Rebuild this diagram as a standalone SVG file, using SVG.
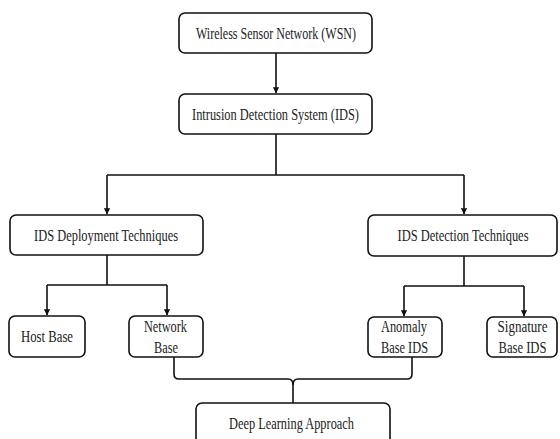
<svg xmlns="http://www.w3.org/2000/svg" width="560" height="439" viewBox="0 0 560 439">
<style>
.box{fill:#fff;stroke:#111;stroke-width:1.6}
.t{font-size:16px;fill:#222;text-anchor:middle}
.c{fill:none;stroke:#111;stroke-width:1.6}
.a{fill:none;stroke:#111;stroke-width:1.6;marker-end:url(#ah)}
</style>
<defs>
<marker id="ah" viewBox="0 0 6 6" refX="5.5" refY="3" markerWidth="4" markerHeight="4" markerUnits="strokeWidth" orient="auto">
<path d="M0,0 L6,3 L0,6 z" fill="#111"/>
</marker>
</defs>
<rect width="560" height="439" fill="#fff"/>
<g id="connectors">
<path class="a" d="M276,53 V93"/>
<path class="c" d="M276,134 V175 M107,175 H464"/>
<path class="a" d="M107,175 V214"/>
<path class="a" d="M464,175 V214"/>
<path class="c" d="M107,255 V285 M47,285 H167"/>
<path class="a" d="M47,285 V315"/>
<path class="a" d="M167,285 V315"/>
<path class="c" d="M464,256 V286 M404,286 H524"/>
<path class="a" d="M404,286 V316"/>
<path class="a" d="M524,286 V316"/>
<path class="c" d="M174,357 V374 Q174,379 179,379 H288 Q293,379 293,385 V403"/>
<path class="c" d="M412,357 V374 Q412,379 407,379 H298 Q293,379 293,385"/>
</g>
<g font-family="'Liberation Serif', 'DejaVu Serif', serif">
<g id="wsn">
<rect class="box" x="179" y="13" width="193" height="40" rx="6"/>
<text class="t" x="276" y="38.5" textLength="160" lengthAdjust="spacingAndGlyphs">Wireless Sensor Network (WSN)</text>
</g>
<g id="ids">
<rect class="box" x="179" y="94" width="193" height="40" rx="6"/>
<text class="t" x="275.5" y="120" textLength="167" lengthAdjust="spacingAndGlyphs">Intrusion Detection System (IDS)</text>
</g>
<g id="deployment">
<rect class="box" x="10" y="215" width="193" height="40" rx="6"/>
<text class="t" x="106" y="241" textLength="144" lengthAdjust="spacingAndGlyphs">IDS Deployment Techniques</text>
</g>
<g id="detection">
<rect class="box" x="368" y="215" width="189" height="41" rx="6"/>
<text class="t" x="463" y="241" textLength="131" lengthAdjust="spacingAndGlyphs">IDS Detection Techniques</text>
</g>
<g id="host">
<rect class="box" x="9" y="316" width="76" height="41" rx="6"/>
<text class="t" x="47" y="342" textLength="52" lengthAdjust="spacingAndGlyphs">Host Base</text>
</g>
<g id="network">
<rect class="box" x="129" y="316" width="74" height="41" rx="6"/>
<text class="t" x="165.5" y="332" textLength="43" lengthAdjust="spacingAndGlyphs">Network</text>
<text class="t" x="166" y="352.5" textLength="24" lengthAdjust="spacingAndGlyphs">Base</text>
</g>
<g id="anomaly">
<rect class="box" x="368" y="317" width="74" height="40" rx="6"/>
<text class="t" x="404" y="332" textLength="46" lengthAdjust="spacingAndGlyphs">Anomaly</text>
<text class="t" x="404.5" y="352.5" textLength="47" lengthAdjust="spacingAndGlyphs">Base IDS</text>
</g>
<g id="signature">
<rect class="box" x="487" y="317" width="70" height="40" rx="6"/>
<text class="t" x="522.5" y="332" textLength="50" lengthAdjust="spacingAndGlyphs">Signature</text>
<text class="t" x="522.5" y="352.5" textLength="48" lengthAdjust="spacingAndGlyphs">Base IDS</text>
</g>
<g id="deep">
<rect class="box" x="196" y="403" width="194" height="50" rx="6"/>
<text class="t" x="291.5" y="429" textLength="125" lengthAdjust="spacingAndGlyphs">Deep Learning Approach</text>
</g>
</g>
</svg>
